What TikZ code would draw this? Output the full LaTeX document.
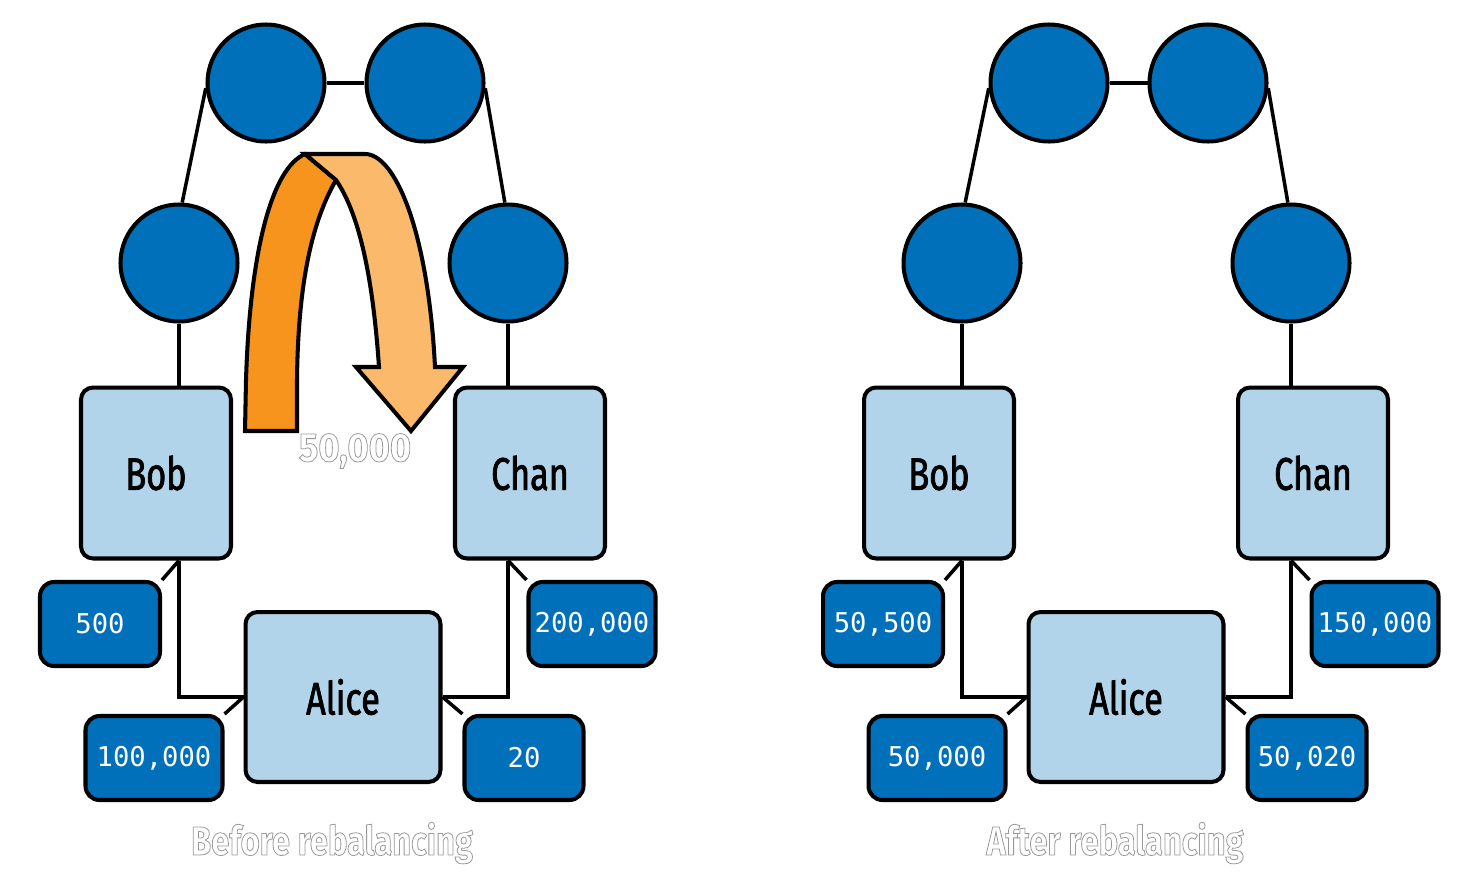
\documentclass[tikz,border=0pt]{standalone}
\usepackage{fontspec}
\usepackage{xcolor}
\usepackage{tikz}
\usetikzlibrary{positioning,backgrounds}
\newfontfamily\namefont{Fira Sans}[FakeStretch=0.75, FakeBold=1.6]
\newfontfamily\capfont{Fira Sans}[FakeStretch=0.81]
\newfontfamily\amountfont{Fira Sans}[FakeStretch=0.9]
\newfontfamily\numfont{DejaVu Sans Mono}
\definecolor{lnblue}{RGB}{0,112,187}
\definecolor{lnlight}{RGB}{178,212,234}
\definecolor{lnorange}{RGB}{247,148,30}
\definecolor{lnpeach}{RGB}{251,185,108}
\newcommand{\outlined}[1]{{\color{white}\special{pdf:code 2 Tr 0.6 0.6 0.6 RG 0.45 w}#1\special{pdf:code 0 Tr}}}

\begin{document}
\begin{tikzpicture}[x=0.02cm, y=-0.02cm,
    hop/.style={circle, draw, line width=2.3pt, fill=lnblue, minimum size=2.34cm},
    peer/.style={rectangle, draw, line width=2.3pt, fill=lnlight, rounded corners=0.24cm, font=\namefont\fontsize{26}{30}\selectfont},
    balance/.style={rectangle, draw, line width=2.3pt, fill=lnblue, rounded corners=0.28cm, text=white, minimum height=1.68cm, font=\numfont\fontsize{15.5}{18}\selectfont},
    link/.style={line width=2pt},
    caption/.style={font=\capfont\bfseries\fontsize{23}{26}\selectfont}]

    \useasboundingbox (0,0) rectangle (1481,886);

    % before rebalancing
    \node[hop] (hopA) at (266,83) {};
    \node[hop] (hopB) at (425,83) {};
    \node[hop] (bobhop) at (179,263) {};
    \node[hop] (chanhop) at (508,263) {};
    \node[peer, minimum width=3.0cm, minimum height=3.42cm] (bob) at (156,473) {Bob};
    \node[peer, minimum width=3.0cm, minimum height=3.42cm] (chan) at (530,473) {Chan};
    \node[peer, minimum width=3.9cm, minimum height=3.4cm] (alice) at (343,697) {Alice};
    \node[balance, minimum width=2.4cm] (bobbal) at (100,624) {500};
    \node[balance, minimum width=2.74cm] (alicebob) at (154,758) {100,000};
    \node[balance, minimum width=2.54cm] (chanbal) at (592,624) {200,000};
    \node[balance, minimum width=2.38cm] (alicechan) at (524,758) {20};

    % after rebalancing
    \node[hop] (hopC) at (1049,83) {};
    \node[hop] (hopD) at (1208,83) {};
    \node[hop] (bobhop2) at (962,263) {};
    \node[hop] (chanhop2) at (1291,263) {};
    \node[peer, minimum width=3.0cm, minimum height=3.42cm] (bob2) at (939,473) {Bob};
    \node[peer, minimum width=3.0cm, minimum height=3.42cm] (chan2) at (1313,473) {Chan};
    \node[peer, minimum width=3.9cm, minimum height=3.4cm] (alice2) at (1126,697) {Alice};
    \node[balance, minimum width=2.4cm] (bobbal2) at (883,624) {50,500};
    \node[balance, minimum width=2.74cm] (alicebob2) at (937,758) {50,000};
    \node[balance, minimum width=2.54cm] (chanbal2) at (1375,624) {150,000};
    \node[balance, minimum width=2.38cm] (alicechan2) at (1307,758) {50,020};

    \begin{scope}[on background layer]
        \draw[link] (hopA) -- (hopB);
        \draw[link] (hopA.185) -- (bobhop.87);
        \draw[link] (hopB.355) -- (chanhop.93);
        \draw[link] (bobhop) -- (bobhop |- bob.north);
        \draw[link] (chanhop) -- (chanhop |- chan.north);
        \draw[link] (bobhop |- bob.south) |- (alice.west);
        \draw[link] (chanhop |- chan.south) |- (alice.east);
        \draw[link] (bobhop |- bob.south) -- (bobbal.north east);
        \draw[link] (alice.west) -- (alicebob.north east);
        \draw[link] (chanhop |- chan.south) -- (chanbal.north west);
        \draw[link] (alice.east) -- (alicechan.north west);

        \draw[link] (hopC) -- (hopD);
        \draw[link] (hopC.185) -- (bobhop2.87);
        \draw[link] (hopD.355) -- (chanhop2.93);
        \draw[link] (bobhop2) -- (bobhop2 |- bob2.north);
        \draw[link] (chanhop2) -- (chanhop2 |- chan2.north);
        \draw[link] (bobhop2 |- bob2.south) |- (alice2.west);
        \draw[link] (chanhop2 |- chan2.south) |- (alice2.east);
        \draw[link] (bobhop2 |- bob2.south) -- (bobbal2.north east);
        \draw[link] (alice2.west) -- (alicebob2.north east);
        \draw[link] (chanhop2 |- chan2.south) -- (chanbal2.north west);
        \draw[link] (alice2.east) -- (alicechan2.north west);
    \end{scope}

    % the 50,000 that moves round the loop
    \filldraw[fill=lnorange, line width=2.3pt] (297,431) -- (245,431) -- (246,380)
        .. controls (250,250) and (272,168) .. (305,154) -- (336,180)
        .. controls (310,225) and (298,290) .. (297,380) -- cycle;
    \filldraw[fill=lnpeach, line width=2.3pt] (305,154) -- (365,154)
        .. controls (395,154) and (428,230) .. (435,367) -- (463,367) -- (411,431)
        -- (356,367) -- (379,367) .. controls (373,280) and (360,215) .. (336,180) -- cycle;

    \node[font=\amountfont\bfseries\fontsize{23}{26}\selectfont] (amount) at (355,451) {\outlined{50,000}};
    \node[caption] (before) at (332,843) {\outlined{Before rebalancing}};
    \node[caption] (after) at (1115,843) {\outlined{After rebalancing}};
\end{tikzpicture}
\end{document}
